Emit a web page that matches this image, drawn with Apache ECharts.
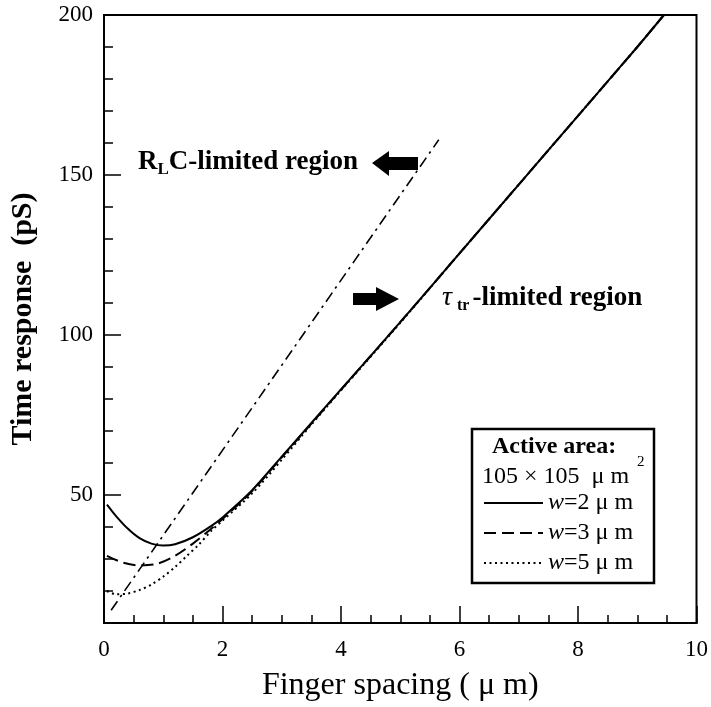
<!DOCTYPE html>
<html>
<head>
<meta charset="utf-8">
<script src="https://cdn.jsdelivr.net/npm/echarts@6/dist/echarts.min.js"></script>
<style>html,body{margin:0;padding:0;background:#fff}#c{width:711px;height:707px}</style>
</head>
<body>
<div id="c"></div>
<script>
// ---- data ----
const xW2 = [0.05, 0.2, 0.4, 0.6, 0.8, 1.0, 1.2, 1.5, 1.8, 2.0, 2.5, 3.0, 3.5, 4.0, 5.0, 6.0, 7.0, 8.0, 9.0, 9.45];
const yW2 = [47, 43.5, 39.5, 36.5, 34.8, 34.2, 34.6, 36.8, 40.2, 43, 51.5, 62, 72.5, 83, 104, 125.5, 147, 168.5, 190, 200];
const xW3 = [0.05, 0.3, 0.6, 0.9, 1.2, 1.5, 1.8, 2.0, 2.5, 3.0, 3.5, 4.0, 5.0, 6.0, 7.0, 8.0, 9.0, 9.45];
const yW3 = [31, 29, 28, 28.5, 31, 34.8, 39.3, 42.5, 51.2, 61.8, 72.3, 82.9, 104, 125.5, 147, 168.5, 190, 200];
const xW5 = [0.05, 0.2, 0.4, 0.6, 0.8, 1.0, 1.2, 1.4, 1.6, 1.8, 2.0, 2.5, 3.0, 3.5, 4.0, 5.0, 6.0, 7.0, 8.0, 9.0, 9.45];
const yW5 = [20, 19, 19.2, 20.3, 22, 24.5, 27.5, 31, 34.5, 38.6, 42, 50.5, 61, 72, 82.7, 103.8, 125.5, 147, 168.5, 190, 200];
const xRLC = [0.12, 5.65];
const yRLC = [14, 161];
const xTickLabels = [0, 2, 4, 6, 8, 10];
const yTickLabels = [50, 100, 150, 200];
const seriesNames = ['w=2 μ m', 'w=3 μ m', 'w=5 μ m'];

const FONT = "'Liberation Serif', 'DejaVu Serif', serif";
const pair = (xs, ys) => xs.map((x, i) => [x, ys[i]]);

const chart = echarts.init(document.getElementById('c'), null, {renderer: 'canvas'});

// measure helper for annotation layout
const mctx = document.createElement('canvas').getContext('2d');
function tw(txt, font) { mctx.font = font; return mctx.measureText(txt).width; }

const graphics = [];
// RLC-limited region
(function(){
  let x = 138, y = 163;
  const f1 = "bold 27px " + FONT, f2 = "bold 17px " + FONT;
  graphics.push({type:'text', left:x, top:y-14, style:{text:'R', font:f1, fill:'#000'}});
  x += tw('R', f1);
  graphics.push({type:'text', left:x, top:y-2, style:{text:'L', font:f2, fill:'#000'}});
  x += tw('L', f2);
  graphics.push({type:'text', left:x, top:y-14, style:{text:'C-limited region', font:f1, fill:'#000'}});
})();
// tau_tr-limited region
(function(){
  let x = 442, y = 299;
  const f0 = "italic 28px " + FONT, f1 = "bold 27px " + FONT, f2 = "bold 16px " + FONT;
  graphics.push({type:'text', left:x, top:y-15, style:{text:'τ', font:f0, fill:'#000'}});
  x += tw('τ', f0) + 5;
  graphics.push({type:'text', left:x, top:y-1, style:{text:'tr', font:f2, fill:'#000'}});
  x += tw('tr', f2) + 3;
  graphics.push({type:'text', left:x, top:y-14, style:{text:'-limited region', font:f1, fill:'#000'}});
})();
// arrows
graphics.push({type:'polygon', shape:{points:[[372,163],[389,151],[389,157],[418,157],[418,170],[389,170],[389,176]]}, style:{fill:'#000'}});
graphics.push({type:'polygon', shape:{points:[[353,293],[376,293],[376,287],[399,299],[376,311],[376,305],[353,305]]}, style:{fill:'#000'}});
// legend box
graphics.push({type:'rect', shape:{x:472, y:429, width:182, height:154}, style:{fill:'#fff', stroke:'#000', lineWidth:2.5}, z:5});
graphics.push({type:'text', left:492, top:435, z:6, style:{text:'Active area:', font:"bold 24px " + FONT, fill:'#000'}});
graphics.push({type:'text', left:482, top:465, z:6, style:{text:'105 × 105  μ m', font:"24px " + FONT, fill:'#000'}});
graphics.push({type:'text', left:637, top:455, z:6, style:{text:'2', font:"15px " + FONT, fill:'#000'}});

const option = {
  backgroundColor: '#fff',
  animation: false,
  grid: {left:104, right:5, top:15, bottom:82, show:true, borderColor:'#000', borderWidth:2, backgroundColor:'transparent'},
  legend: {
    orient:'vertical', left:483, top:491, padding:0, itemWidth:59, itemHeight:14, itemGap:6, z:10,
    data: seriesNames,
    itemStyle: {opacity:0},
    formatter: n => '{i|w}{n|' + n.slice(1) + '}',
    textStyle: {fontFamily:FONT, fontSize:24, color:'#000',
      rich:{i:{fontFamily:FONT, fontSize:24, fontStyle:'italic', color:'#000'}, n:{fontFamily:FONT, fontSize:24, color:'#000'}}}
  },
  xAxis: [
    {type:'value', min:0, max:10, interval:0.5,
     axisLine:{show:true, onZero:false, lineStyle:{color:'#000', width:2}},
     axisTick:{show:true, inside:true, length:8, lineStyle:{color:'#000', width:1.5}},
     axisLabel:{show:false}, splitLine:{show:false},
     name:'Finger spacing ( μ m)', nameLocation:'middle', nameGap:47,
     nameTextStyle:{fontFamily:FONT, fontSize:32, color:'#000'}},
    {type:'value', min:0, max:10, interval:2, position:'bottom',
     axisLine:{show:false, onZero:false},
     axisTick:{show:true, inside:true, length:17, lineStyle:{color:'#000', width:1.5}},
     axisLabel:{show:true, margin:15, fontFamily:FONT, fontSize:23, color:'#000',
       formatter: v => xTickLabels.includes(v) ? String(v) : ''},
     splitLine:{show:false}}
  ],
  yAxis: [
    {type:'value', min:10, max:200, interval:10,
     axisLine:{show:true, onZero:false, lineStyle:{color:'#000', width:2}},
     axisTick:{show:true, inside:true, length:9, lineStyle:{color:'#000', width:1.5}},
     axisLabel:{show:true, margin:11, fontFamily:FONT, fontSize:23, color:'#000',
       customValues: yTickLabels},
     splitLine:{show:false},
     name:'Time response  (pS)', nameLocation:'middle', nameGap:66,
     nameTextStyle:{fontFamily:FONT, fontSize:30, fontWeight:'bold', color:'#000'}},
    {type:'value', min:10, max:200, position:'left',
     axisLine:{show:false, onZero:false},
     axisTick:{show:true, inside:true, length:17, customValues: yTickLabels, lineStyle:{color:'#000', width:1.5}},
     axisLabel:{show:false}, splitLine:{show:false}}
  ],
  series: [
    {name:seriesNames[0], type:'line', data:pair(xW2, yW2), smooth:0.3, symbol:'none',
     lineStyle:{color:'#000', width:2, type:'solid'}, itemStyle:{color:'#000'}},
    {name:seriesNames[1], type:'line', data:pair(xW3, yW3), smooth:0.3, symbol:'none',
     lineStyle:{color:'#000', width:2, type:[12, 6]}, itemStyle:{color:'#000'}},
    {name:seriesNames[2], type:'line', data:pair(xW5, yW5), smooth:0.3, symbol:'none',
     lineStyle:{color:'#000', width:2, type:[2, 3.5]}, itemStyle:{color:'#000'}},
    {name:'RLC', type:'line', data:pair(xRLC, yRLC), symbol:'none',
     lineStyle:{color:'#000', width:1.6, type:[11, 5, 2.5, 5]}, itemStyle:{color:'#000'}}
  ],
  graphic: graphics
};
chart.setOption(option);
</script>
</body>
</html>
